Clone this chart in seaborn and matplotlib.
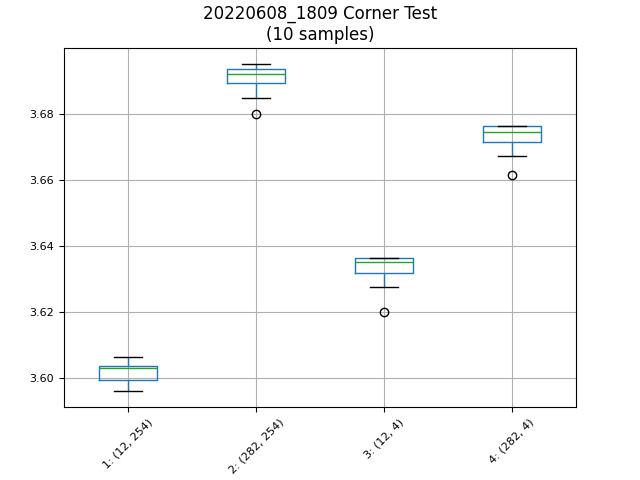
import pandas as pd
import seaborn as sns
import numpy as np
import matplotlib
matplotlib.use("Agg")
import matplotlib.pyplot as plt

# corner labels and 10 readings per corner
corners = ["1: (12, 254)", "2: (282, 254)", "3: (12, 4)", "4: (282, 4)"]
c1 = [3.5961, 3.5980, 3.5994, 3.5994, 3.6032, 3.6032, 3.6036, 3.6036, 3.6050, 3.6063]
c2 = [3.6800, 3.6848, 3.6891, 3.6891, 3.6918, 3.6918, 3.6936, 3.6936, 3.6945, 3.6951]
c3 = [3.6200, 3.6276, 3.6318, 3.6318, 3.6352, 3.6352, 3.6364, 3.6364, 3.6364, 3.6364]
c4 = [3.6613, 3.6673, 3.6715, 3.6715, 3.6743, 3.6743, 3.6761, 3.6761, 3.6761, 3.6761]

df = pd.DataFrame({corners[0]: c1, corners[1]: c2, corners[2]: c3, corners[3]: c4})
long = df.melt(var_name="corner", value_name="value")

fig, ax = plt.subplots(figsize=(6.4, 4.8), dpi=100)
sns.boxplot(data=long, x="corner", y="value", ax=ax, fill=False, color="#1f77b4",
            width=0.45, linewidth=1, whis=1.5,
            medianprops={"color": "#2ca02c", "linewidth": 1},
            capprops={"color": "black", "linewidth": 1},
            whiskerprops={"color": "#1f77b4", "linewidth": 1},
            flierprops={"marker": "o", "markerfacecolor": "none",
                        "markeredgecolor": "black", "markersize": 6})

ax.grid(True, color="#b0b0b0", linewidth=0.8)
ax.set_axisbelow(True)
ax.set_xlim(-0.5, 3.5)
ax.set_ylim(3.5913, 3.6998)
ax.set_xlabel("")
ax.set_ylabel("")
ax.tick_params(axis="x", labelrotation=45, labelsize=8)
ax.tick_params(axis="y", labelsize=8)
ax.set_title("20220608_1809 Corner Test\n(10 samples)", fontsize=12)

plt.subplots_adjust(left=0.1, right=0.9, top=0.9, bottom=0.152)
plt.savefig("out.png", dpi=100)
